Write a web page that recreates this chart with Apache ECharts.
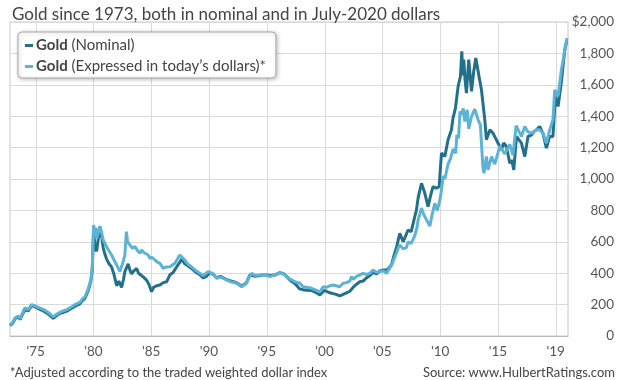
<!DOCTYPE html>
<html>
<head>
<meta charset="utf-8">
<script src="https://cdn.jsdelivr.net/npm/echarts@6/dist/echarts.min.js"></script>
<style>
html,body{margin:0;padding:0;background:#fff;}
#chart{width:630px;height:380px;}
</style>
</head>
<body>
<div id="chart"></div>
<script>
// ---- data (decimal years, US$ per ounce) ----
const nominalDates = [1972.78,1973.00,1973.21,1973.49,1973.65,1973.79,1974.07,1974.36,1974.65,1974.94,1975.22,1975.66,1976.09,1976.52,1976.82,1977.10,1977.39,1977.70,1977.97,1978.20,1978.40,1978.83,1979.05,1979.26,1979.55,1979.78,1979.90,1980.02,1980.13,1980.28,1980.42,1980.56,1980.70,1980.85,1981.00,1981.14,1981.35,1981.57,1981.75,1982.01,1982.20,1982.44,1982.60,1982.72,1983.01,1983.16,1983.30,1983.50,1983.74,1983.90,1984.17,1984.40,1984.60,1984.80,1985.03,1985.20,1985.47,1985.75,1986.04,1986.33,1986.62,1986.90,1987.20,1987.48,1987.63,1987.91,1988.20,1988.49,1988.80,1989.21,1989.50,1989.79,1990.08,1990.40,1990.66,1991.00,1991.52,1991.90,1992.39,1992.82,1993.25,1993.54,1993.69,1994.00,1994.40,1994.80,1995.27,1995.70,1996.13,1996.50,1996.71,1997.10,1997.43,1997.86,1998.15,1998.44,1998.88,1999.31,1999.59,1999.74,2000.00,2000.17,2000.46,2000.74,2001.00,2001.32,2001.61,2001.90,2002.19,2002.47,2002.77,2003.05,2003.34,2003.63,2003.92,2004.20,2004.50,2004.78,2005.10,2005.36,2005.60,2005.80,2006.00,2006.23,2006.51,2006.80,2006.94,2007.23,2007.50,2007.81,2007.95,2008.10,2008.39,2008.68,2008.96,2009.20,2009.39,2009.69,2009.92,2010.12,2010.41,2010.69,2010.98,2011.12,2011.33,2011.56,2011.76,2011.88,2011.97,2012.05,2012.15,2012.28,2012.48,2012.72,2012.90,2013.09,2013.37,2013.58,2013.87,2014.01,2014.30,2014.58,2014.80,2015.02,2015.31,2015.50,2015.74,2016.03,2016.20,2016.38,2016.61,2017.04,2017.33,2017.61,2017.90,2018.10,2018.34,2018.62,2018.90,2019.20,2019.49,2019.77,2019.98,2020.21,2020.50,2020.79,2020.96];
const nominalValues = [66,80,110,123,105,113,170,160,195,185,175,160,140,112,130,145,150,158,170,180,190,205,225,240,290,350,420,690,560,540,620,690,640,560,520,490,460,440,400,320,350,310,360,410,460,420,395,415,430,400,385,370,355,330,282,310,320,325,340,345,390,405,440,470,490,460,445,430,410,390,370,380,405,390,370,380,360,350,340,318,340,390,395,380,385,390,385,388,404,395,380,350,335,300,295,292,290,275,262,252,290,285,275,270,265,255,265,275,285,310,330,345,350,370,385,405,395,415,420,420,435,455,510,565,654,600,591,675,665,760,800,880,973,909,824,900,952,941,952,1165,1143,1250,1313,1388,1452,1590,1653,1813,1660,1760,1640,1547,1760,1558,1680,1771,1653,1568,1377,1250,1313,1292,1260,1228,1186,1230,1207,1101,1120,1058,1271,1228,1143,1271,1280,1300,1313,1335,1290,1197,1271,1271,1526,1462,1621,1823,1880];

const realDates = [1972.78,1973.00,1973.21,1973.49,1973.65,1973.79,1974.07,1974.36,1974.65,1974.94,1975.22,1975.66,1976.09,1976.52,1976.82,1977.10,1977.39,1977.70,1977.97,1978.20,1978.40,1978.83,1979.05,1979.26,1979.55,1979.78,1979.90,1980.02,1980.10,1980.20,1980.28,1980.42,1980.56,1980.70,1980.85,1981.14,1981.30,1981.57,1981.86,1982.01,1982.29,1982.44,1982.60,1982.72,1982.85,1982.95,1983.16,1983.35,1983.59,1983.80,1984.03,1984.17,1984.40,1984.74,1984.89,1985.10,1985.32,1985.55,1985.75,1986.04,1986.30,1986.47,1986.62,1987.05,1987.20,1987.48,1987.63,1987.91,1988.20,1988.49,1988.80,1989.21,1989.50,1989.93,1990.08,1990.40,1990.66,1991.00,1991.52,1991.90,1992.39,1992.82,1993.25,1993.54,1993.69,1994.00,1994.40,1994.80,1995.27,1995.70,1996.13,1996.50,1996.71,1997.10,1997.43,1997.86,1998.15,1998.44,1998.88,1999.31,1999.59,1999.88,2000.17,2000.46,2000.74,2001.00,2001.32,2001.61,2001.90,2002.19,2002.34,2002.47,2002.77,2003.05,2003.34,2003.63,2003.92,2004.20,2004.50,2004.78,2005.10,2005.36,2005.50,2005.80,2005.93,2006.23,2006.37,2006.51,2006.80,2007.09,2007.23,2007.50,2007.81,2008.00,2008.10,2008.39,2008.55,2008.82,2009.11,2009.30,2009.54,2009.75,2009.97,2010.12,2010.26,2010.41,2010.69,2010.90,2011.12,2011.35,2011.45,2011.60,2011.72,2011.85,2012.00,2012.14,2012.34,2012.48,2012.72,2013.00,2013.29,2013.49,2013.70,2013.80,2014.01,2014.15,2014.45,2014.73,2015.02,2015.16,2015.60,2016.03,2016.31,2016.58,2017.04,2017.33,2017.61,2017.90,2018.34,2018.62,2018.91,2019.20,2019.49,2019.77,2019.92,2020.21,2020.50,2020.70,2020.98];
const realValues = [70,85,115,128,110,118,180,168,200,192,182,170,150,122,138,152,160,168,180,190,200,215,235,250,300,360,440,707,640,690,620,660,700,660,611,569,548,516,473,452,410,415,480,516,665,600,580,560,569,545,527,548,530,516,495,500,484,470,463,431,440,431,441,463,473,516,505,484,455,441,420,399,385,410,405,395,367,375,357,345,336,314,336,385,399,385,389,392,378,390,404,395,378,360,346,336,314,310,304,290,280,314,310,320,325,320,314,336,340,350,378,360,380,389,399,392,399,420,405,410,415,399,416,450,475,529,559,580,555,565,600,590,640,690,740,815,780,740,700,770,845,800,860,930,1020,1000,1095,1130,1190,1165,1280,1260,1430,1409,1450,1366,1441,1320,1398,1445,1377,1345,1080,1037,1143,1058,1143,1095,1170,1210,1160,1220,1150,1340,1271,1335,1300,1292,1313,1314,1292,1228,1313,1377,1568,1526,1696,1780,1898];

const xTickYears = [1975,1980,1985,1990,1995,2000,2005,2010,2015,2020];
const xTickLabels = ["'75","'80","'85","'90","'95","'00","'05","'10","'15","'19"];
const yMin = 0, yMax = 2000, yStep = 200;
const seriesNames = ['Gold (Nominal)', 'Gold (Expressed in today\u2019s dollars)*'];

const chart = echarts.init(document.getElementById('chart'), null, {renderer: 'canvas'});
const FONT = 'Lato, "Noto Sans", sans-serif';
const toPairs = (xs, ys) => xs.map((x, i) => [x, ys[i]]);

chart.setOption({
  animation: false,
  backgroundColor: '#fff',
  textStyle: {fontFamily: FONT},
  title: [
    {text: 'Gold since 1973, both in nominal and in July-2020 dollars', left: 7, top: 1,
     textStyle: {fontFamily: FONT, fontSize: 17, fontWeight: 'normal', color: '#444'}},
    {text: '*Adjusted according to the traded weighted dollar index', left: 5, top: 361,
     textStyle: {fontFamily: FONT, fontSize: 13, fontWeight: 'normal', color: '#444'}},
    {text: 'Source: www.HulbertRatings.com', right: 10, top: 361,
     textStyle: {fontFamily: FONT, fontSize: 13, fontWeight: 'normal', color: '#444'}}
  ],
  legend: {
    orient: 'vertical', left: 18, top: 32, z: 20,
    padding: [6, 10, 4, 7], itemGap: 6,
    itemWidth: 8, itemHeight: 3, icon: 'rect',
    backgroundColor: '#fff', borderColor: '#aaa', borderWidth: 1, borderRadius: 4,
    shadowBlur: 4, shadowColor: 'rgba(0,0,0,0.25)', shadowOffsetX: 1, shadowOffsetY: 1,
    data: seriesNames,
    formatter: n => '{b|Gold}{r|' + n.slice(4) + '}',
    textStyle: {
      padding: [0, 0, 0, -2],
      rich: {
        b: {fontFamily: FONT, fontSize: 15, fontWeight: 'bold', color: '#444', lineHeight: 16},
        r: {fontFamily: FONT, fontSize: 15, color: '#444', lineHeight: 16}
      }
    }
  },
  grid: {left: 10, right: 62, top: 22, bottom: 44, show: true, z: 0,
         backgroundColor: 'transparent', borderColor: '#c8c8c8', borderWidth: 1},
  xAxis: {
    type: 'value', min: 1972.78, max: 2021.07,
    axisLine: {show: true, lineStyle: {color: '#bbb'}},
    axisTick: {show: false},
    splitLine: {show: false},
    axisLabel: {customValues: xTickYears, margin: 9, fontFamily: FONT, fontSize: 13.5, color: '#555',
      formatter: v => xTickLabels[xTickYears.indexOf(Math.round(v))] || ''}
  },
  yAxis: {
    type: 'value', position: 'right', min: yMin, max: yMax, interval: yStep,
    axisLine: {show: false}, axisTick: {show: false},
    splitLine: {show: true, lineStyle: {color: '#dadada', width: 1}},
    axisLabel: {align: 'right', margin: 46, fontFamily: FONT, fontSize: 13.5, color: '#555',
      formatter: v => (v === 2000 ? '$' : '') + v.toLocaleString('en-US')}
  },
  series: [
    {name: 'vgrid', type: 'custom', z: 4, silent: true, tooltip: {show: false}, clip: false,
     data: xTickYears.map(y => [y, yMin]), encode: {x: 0, y: 1},
     renderItem: (params, api) => {
       const p0 = api.coord([api.value(0), yMin]);
       const p1 = api.coord([api.value(0), yMax]);
       const px = Math.round(p0[0]) + 0.5;
       return {type: 'rect', shape: {x: px - 0.5, y: p1[1], width: 1, height: p0[1] - p1[1]},
               style: {fill: '#dadada'}};
     }},
    {name: seriesNames[0], type: 'line', data: toPairs(nominalDates, nominalValues), showSymbol: false, z: 6,
     color: '#23708a', lineStyle: {width: 3, color: '#23708a'}},
    {name: seriesNames[1], type: 'line', data: toPairs(realDates, realValues), showSymbol: false, z: 7,
     color: '#5cb3d5', lineStyle: {width: 3, color: '#5cb3d5'}}
  ]
});
</script>
</body>
</html>
